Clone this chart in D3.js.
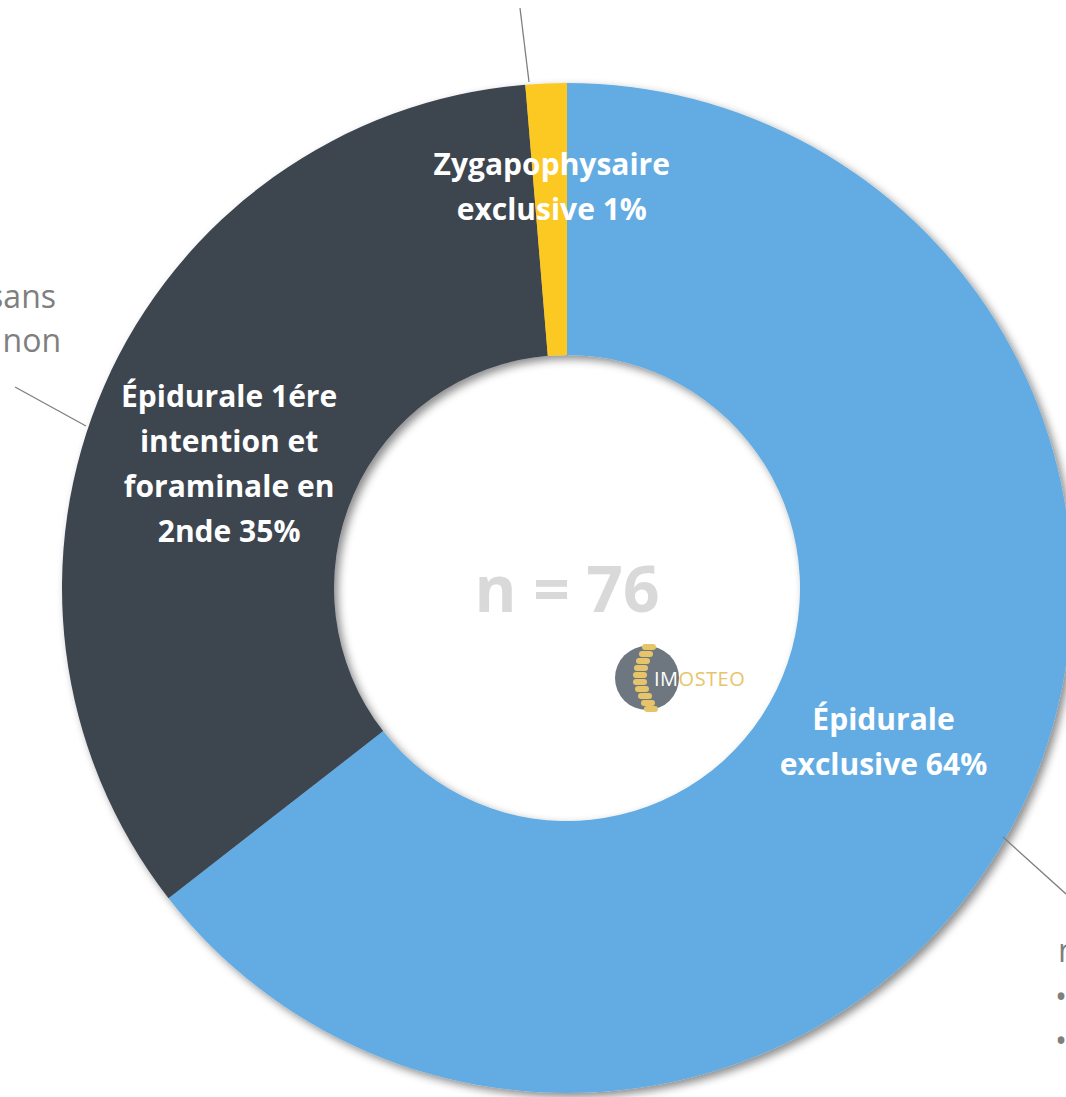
<!DOCTYPE html>
<html>
<head>
<meta charset="utf-8">
<script src="https://cdn.jsdelivr.net/npm/d3@7"></script>
<style>
  body { margin: 0; background: #fff; }
  svg { display: block; }
</style>
</head>
<body>
<div id="chart"></div>
<script>
var categories = ["Épidurale exclusive", "Épidurale 1ére intention et foraminale en 2nde", "Zygapophysaire exclusive"];
var values = [49, 26, 1];
var colors = ["#62ace3", "#3d4450", "#fcc821"];
var labelLines = [
    ["Épidurale", "exclusive 64%"],
    ["Épidurale 1ére", "intention et", "foraminale en", "2nde 35%"],
    ["Zygapophysaire", "exclusive 1%"]
];
var total = 76;

var full_width = 1066,
    full_height = 1097;

var cx = 567, cy = 588,
    outer = 505, inner = 233;

var svg = d3.select("#chart")
    .append("svg")
    .attr("width", full_width)
    .attr("height", full_height);

var defs = svg.append("defs");
var shadow = defs.append("filter")
    .attr("id", "shadow")
    .attr("x", "-10%").attr("y", "-10%")
    .attr("width", "120%").attr("height", "120%");
shadow.append("feDropShadow")
    .attr("dx", 4).attr("dy", 4)
    .attr("stdDeviation", 4)
    .attr("flood-color", "#000")
    .attr("flood-opacity", 0.45);

var g = svg.append("g")
    .attr("transform", "translate(" + cx + "," + cy + ")");

var pie = d3.pie().sort(null).value(function(d) { return d; });
var arcs = pie(values);

var arc = d3.arc().innerRadius(inner).outerRadius(outer);
var labelArc = d3.arc().innerRadius(369).outerRadius(369);

g.append("g")
    .attr("filter", "url(#shadow)")
    .selectAll("path")
    .data(arcs)
    .enter()
    .append("path")
    .attr("d", arc)
    .attr("fill", function(d, i) { return colors[i]; });

// slice labels
var nudge = [[-15, -8], [0, 25], [0, -32]];
var lineH = 45;
arcs.forEach(function(d, i) {
    var c = labelArc.centroid(d);
    var lines = labelLines[i];
    var t = g.append("text")
        .attr("text-anchor", "middle")
        .style("font-family", "'Open Sans', sans-serif")
        .style("font-weight", "bold")
        .style("font-size", "30px")
        .attr("fill", "#fff");
    lines.forEach(function(l, j) {
        t.append("tspan")
            .attr("x", c[0] + nudge[i][0])
            .attr("y", c[1] + nudge[i][1] + (j - (lines.length - 1) / 2) * lineH + 10)
            .text(l);
    });
});

// centre text
g.append("text")
    .attr("text-anchor", "middle")
    .attr("y", 24)
    .style("font-family", "'Open Sans', sans-serif")
    .style("font-weight", "bold")
    .style("font-size", "64px")
    .attr("fill", "#d9d9d9")
    .text("n = " + total);

// logo
var logo = g.append("g").attr("transform", "translate(80,90)");
logo.append("circle").attr("r", 32).attr("fill", "#6e7780");
var vert = [-31, -24, -17, -10, -3, 4, 11, 18, 25, 31];
var vx = [2, -1, -4, -6, -7, -7, -5, -2, 1, 4];
logo.selectAll("rect.v")
    .data(vert)
    .enter()
    .append("rect")
    .attr("class", "v")
    .attr("x", function(d, i) { return vx[i] - 7; })
    .attr("y", function(d) { return d - 3; })
    .attr("width", 14).attr("height", 6)
    .attr("rx", 3)
    .attr("fill", "#e6c56a");
var lt = logo.append("text")
    .attr("x", 7).attr("y", 8)
    .style("font-family", "'Open Sans', sans-serif")
    .style("font-size", "20px")
    .style("letter-spacing", "0.5px");
lt.append("tspan").attr("fill", "#fff").text("IM");
lt.append("tspan").attr("fill", "#e6c56a").text("OSTEO");

// leader lines to outside labels
var leaders = [[520, 8, 529, 82], [15, 387, 86, 426], [1003, 837, 1066, 894]];
svg.selectAll("line.leader")
    .data(leaders)
    .enter()
    .append("line")
    .attr("class", "leader")
    .attr("x1", function(d) { return d[0]; })
    .attr("y1", function(d) { return d[1]; })
    .attr("x2", function(d) { return d[2]; })
    .attr("y2", function(d) { return d[3]; })
    .attr("stroke", "#7f7f7f")
    .attr("stroke-width", 1.3);

// cut-off outside labels
var outside = [
    { t: "sans", x: 56, y: 308, a: "end" },
    { t: "non", x: 61, y: 352, a: "end" },
    { t: "n", x: 1058, y: 962, a: "start" },
    { t: "•", x: 1055, y: 1008, a: "start" },
    { t: "•", x: 1055, y: 1052, a: "start" }
];
svg.selectAll("text.outside")
    .data(outside)
    .enter()
    .append("text")
    .attr("class", "outside")
    .attr("x", function(d) { return d.x; })
    .attr("y", function(d) { return d.y; })
    .attr("text-anchor", function(d) { return d.a; })
    .style("font-family", "'Open Sans', sans-serif")
    .style("font-size", "32px")
    .attr("fill", "#7f7f7f")
    .text(function(d) { return d.t; });
</script>
</body>
</html>
